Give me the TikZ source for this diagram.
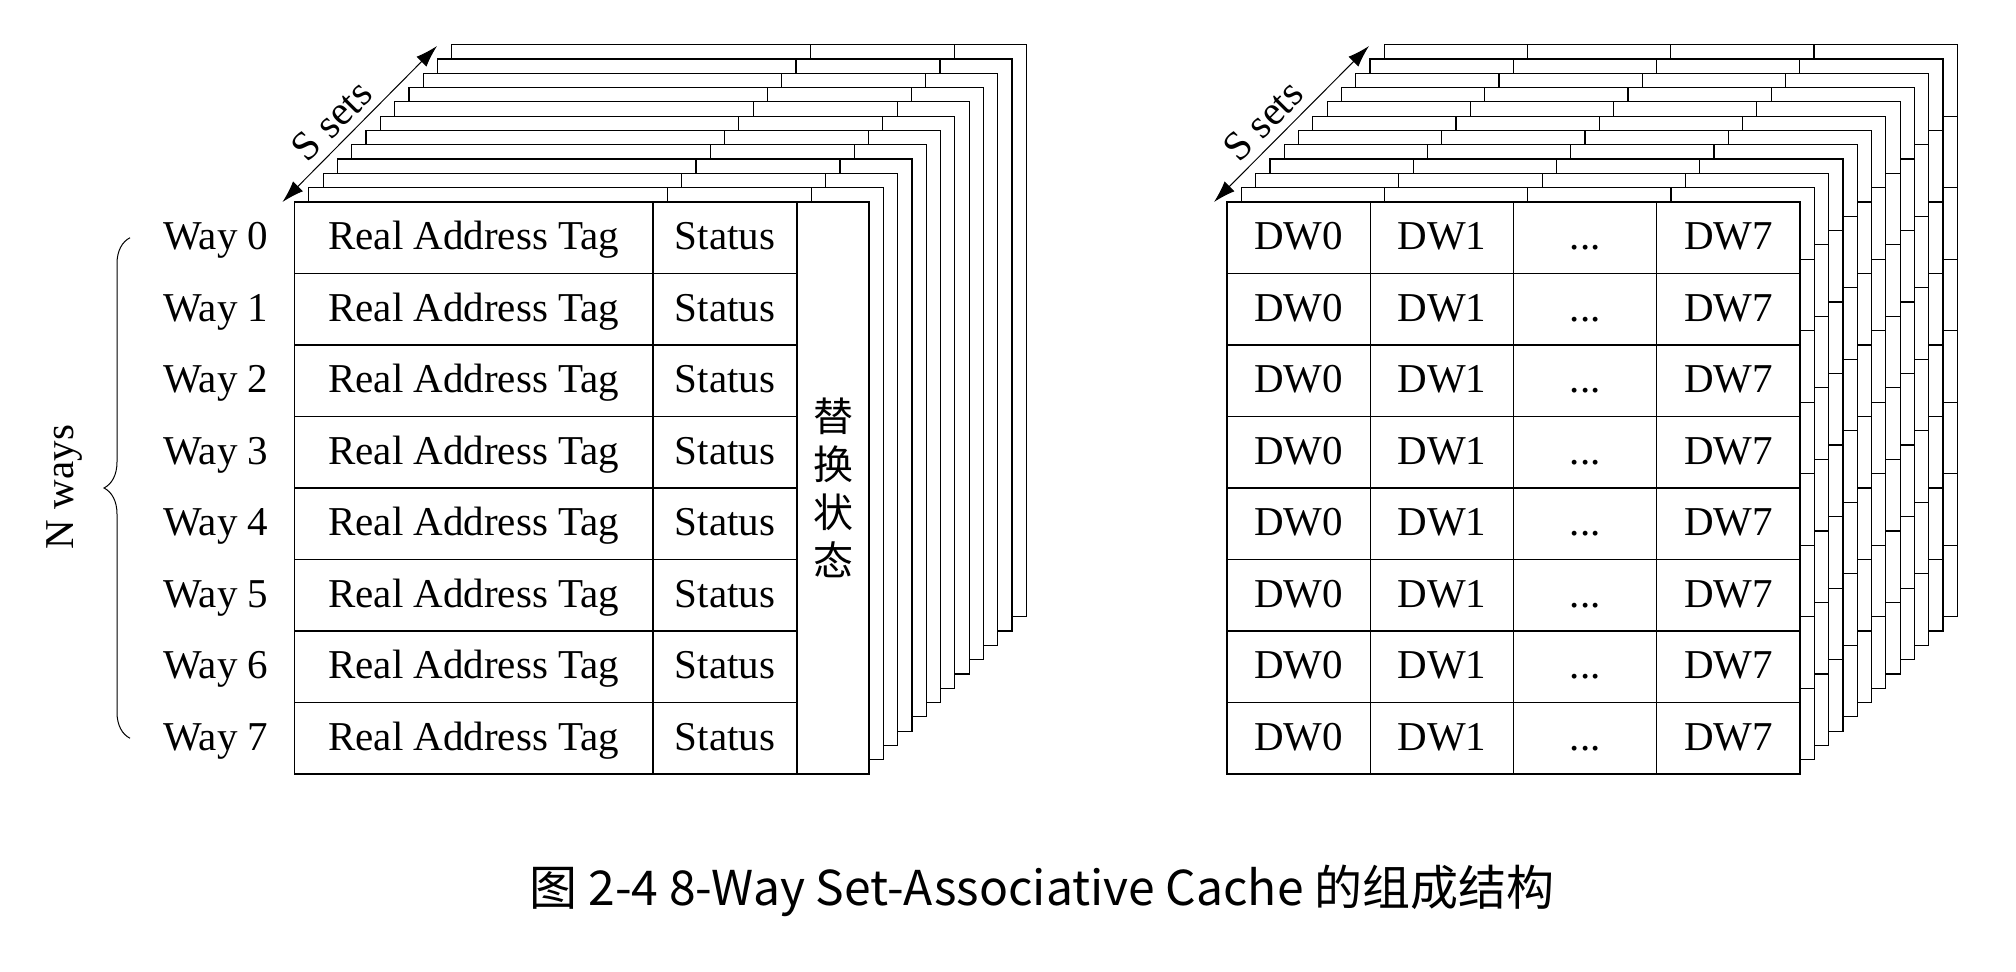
\documentclass[tikz,border=0pt]{standalone}
\usepackage{fontspec}
\setmainfont{Liberation Serif}
\newfontfamily\cjk{Noto Sans CJK SC}
\usetikzlibrary{arrows.meta,positioning,decorations.pathreplacing}
\newcommand{\cdotsword}{...}

\begin{document}
\begin{tikzpicture}[
    x=0.5pt, y=-0.5pt,
    cell/.style={rectangle, draw, fill=white, line width=0.7pt, inner sep=0pt, outer sep=0pt, minimum height=35.75pt,
                 text height=15pt, text depth=3pt, font=\fontsize{20.5}{24}\selectfont},
    layer/.style={draw, fill=white, line width=0.6pt},
    lbl/.style={font=\fontsize{20.5}{24}\selectfont},
    arrow/.style={{Latex[length=11pt,width=7pt]}-{Latex[length=11pt,width=7pt]}, line width=0.5pt}
]
    \useasboundingbox (0,0) rectangle (2016,972);

    % Back layers of the tag array
    \foreach \k in {11,...,1} {
        \begin{scope}[shift={(14.3*\k,-14.3*\k)}]
            \draw[layer] (294.5,202) rectangle (869,774);
            \draw[line width=0.6pt] (653,202) -- (653,774) (797,202) -- (797,774);
            \foreach \r in {1,...,7}
                \draw[line width=0.6pt] (294.5,202+71.5*\r) -- (797,202+71.5*\r);
        \end{scope}
    }

    % Back layers of the data array
    \foreach \k in {11,...,1} {
        \begin{scope}[shift={(14.3*\k,-14.3*\k)}]
            \draw[layer] (1227,202) rectangle (1800,774);
            \foreach \c in {1,2,3}
                \draw[line width=0.6pt] (1227+143.25*\c,202) -- (1227+143.25*\c,774);
            \foreach \r in {1,...,7}
                \draw[line width=0.6pt] (1227,202+71.5*\r) -- (1800,202+71.5*\r);
        \end{scope}
    }

    % Front tag array
    \foreach \r in {0,...,7} {
        \node[cell, minimum width=179.25pt, anchor=north west] (tag\r) at (294.5,202+71.5*\r) {Real Address Tag};
        \node[cell, minimum width=72pt, right=0pt of tag\r] (st\r) {Status};
        \node[lbl, text height=15pt, text depth=3pt, left=9.5pt of tag\r] (way\r) {Way \r};
    }
    \node[cell, minimum width=36pt, minimum height=286pt, anchor=north west, align=center,
          text height=, text depth=, font=\cjk\fontsize{20}{24}\selectfont] (repl) at (st0.north east) {替\\换\\状\\态};

    % Front data array
    \foreach \r in {0,...,7} {
        \foreach \c/\t in {0/DW0,1/DW1,2/\cdotsword,3/DW7}
            \node[cell, minimum width=71.625pt, anchor=north west] (dw\r-\c) at (1227+143.25*\c,202+71.5*\r) {\t};
    }

    % S sets arrows
    \coordinate (sa) at ([xshift=-6pt]tag0.north west);
    \coordinate (sb) at (437,46);
    \draw[arrow] (sa) -- node[lbl, sloped, above, pos=0.42, inner sep=4pt] (ssets) {S sets} (sb);
    \coordinate (sc) at ([xshift=-6.5pt]dw0-0.north west);
    \coordinate (sd) at (1369,46);
    \draw[arrow] (sc) -- node[lbl, sloped, above, pos=0.42, inner sep=4pt] (ssets2) {S sets} (sd);

    % N ways brace
    \coordinate (bx) at (130,0);
    \coordinate (ba) at (bx |- way7);
    \coordinate (bb) at (bx |- way0);
    \draw[line width=0.5pt, decorate, decoration={brace, amplitude=13pt}] (ba) -- (bb);
    \node[lbl, rotate=90, anchor=south] (nways) at (89,487) {N ways};

    % Caption
    \node[font=\cjk\fontsize{24}{28}\selectfont] (caption) at (1042,891) {图 2-4 8-Way Set-Associative Cache 的组成结构};
\end{tikzpicture}
\end{document}
